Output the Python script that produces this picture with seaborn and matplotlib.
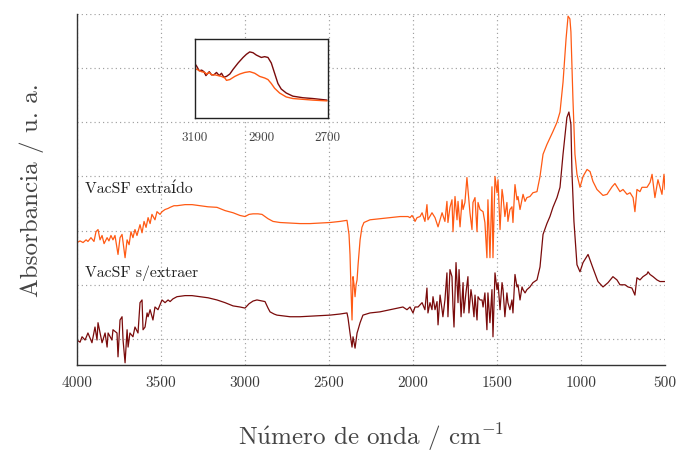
import numpy as np
import pandas as pd
import matplotlib
matplotlib.use("Agg")
import matplotlib.pyplot as plt
import seaborn as sns

# ---- FTIR spectra (wavenumber in cm^-1, absorbance in a.u., vertically offset) ----
wn_extraido = [
    4000, 3982, 3964, 3946, 3935, 3917, 3899, 3887, 3875, 3863, 3851, 3839, 3821, 3810,
    3798, 3786, 3774, 3756, 3744, 3732, 3714, 3702, 3690, 3679, 3667, 3655, 3643, 3625,
    3613, 3601, 3589, 3577, 3565, 3554, 3536, 3524, 3506, 3494, 3476, 3458, 3446, 3423,
    3405, 3357, 3315, 3268, 3220, 3167, 3119, 3071, 3030, 3000, 2976, 2952, 2923, 2899,
    2881, 2863, 2833, 2792, 2732, 2673, 2613, 2554, 2494, 2435, 2393, 2381, 2375, 2369,
    2363, 2357, 2351, 2345, 2339, 2333, 2327, 2315, 2304, 2292, 2256, 2197, 2137, 2077,
    2030, 2018, 2006, 1994, 1988, 1976, 1958, 1946, 1929, 1917, 1911, 1887, 1869, 1851,
    1827, 1810, 1798, 1792, 1780, 1768, 1762, 1750, 1738, 1732, 1720, 1708, 1702, 1691,
    1679, 1673, 1661, 1649, 1643, 1631, 1619, 1613, 1601, 1583, 1572, 1560, 1554, 1542,
    1530, 1524, 1512, 1500, 1494, 1482, 1470, 1464, 1453, 1441, 1435, 1423, 1411, 1405,
    1393, 1381, 1375, 1363, 1351, 1345, 1333, 1322, 1304, 1286, 1262, 1244, 1226, 1203,
    1167, 1143, 1125, 1107, 1089, 1077, 1066, 1060, 1048, 1036, 1024, 1006, 988, 964,
    946, 929, 905, 869, 845, 815, 798, 768, 750, 726, 708, 690, 679, 667, 649, 637, 607,
    589, 577, 560, 542, 518, 506, 500,
]
abs_extraido = [
    1.78, 1.81, 1.78, 1.83, 1.80, 1.87, 1.80, 1.98, 2.02, 1.83, 1.91, 1.76, 1.87, 1.81,
    1.91, 1.83, 1.91, 1.56, 1.87, 1.93, 1.50, 1.83, 1.74, 1.98, 1.87, 2.02, 1.91, 2.11,
    1.96, 2.17, 2.06, 2.24, 2.13, 2.30, 2.20, 2.35, 2.30, 2.35, 2.39, 2.41, 2.43, 2.46,
    2.46, 2.48, 2.48, 2.46, 2.44, 2.43, 2.37, 2.33, 2.28, 2.26, 2.30, 2.31, 2.31, 2.30,
    2.26, 2.22, 2.17, 2.15, 2.14, 2.13, 2.13, 2.14, 2.15, 2.17, 2.19, 1.93, 1.56, 0.91,
    0.35, 1.15, 1.00, 0.78, 1.00, 1.09, 1.37, 1.83, 2.06, 2.15, 2.20, 2.22, 2.24, 2.26,
    2.26, 2.24, 2.28, 2.22, 2.17, 2.24, 2.26, 2.33, 2.17, 2.48, 2.20, 2.33, 2.24, 2.07,
    2.33, 2.17, 2.54, 2.15, 2.43, 2.57, 1.98, 2.63, 2.20, 2.54, 2.07, 2.57, 2.39, 2.52,
    2.98, 2.76, 2.33, 2.02, 2.52, 2.61, 1.98, 2.52, 2.39, 2.35, 2.15, 1.50, 2.57, 1.50,
    2.81, 1.50, 3.00, 2.70, 2.94, 2.02, 2.76, 2.63, 2.26, 2.52, 2.17, 2.39, 2.44, 2.15,
    2.85, 2.57, 2.63, 2.39, 2.57, 2.67, 2.54, 2.61, 2.63, 2.70, 2.72, 3.00, 3.41, 3.59,
    3.83, 4.00, 4.19, 4.74, 5.54, 5.96, 5.91, 5.67, 4.43, 3.41, 3.04, 2.80, 3.00, 3.13,
    3.09, 2.91, 2.76, 2.65, 2.67, 2.81, 2.87, 2.72, 2.76, 2.67, 2.70, 2.61, 2.35, 2.76,
    2.72, 2.80, 2.80, 2.89, 3.04, 2.61, 2.94, 2.67, 3.04, 2.76,
]

wn_sin_extraer = [
    4000, 3982, 3970, 3952, 3935, 3911, 3893, 3881, 3875, 3851, 3833, 3821, 3815, 3792,
    3786, 3762, 3756, 3744, 3732, 3726, 3714, 3702, 3696, 3685, 3667, 3655, 3637, 3625,
    3613, 3607, 3595, 3583, 3577, 3565, 3548, 3536, 3518, 3494, 3476, 3458, 3446, 3429,
    3405, 3357, 3316, 3268, 3220, 3167, 3119, 3071, 3030, 3000, 2976, 2952, 2929, 2899,
    2881, 2863, 2851, 2827, 2810, 2732, 2673, 2613, 2554, 2494, 2435, 2393, 2387, 2375,
    2363, 2357, 2345, 2333, 2327, 2315, 2298, 2256, 2197, 2137, 2095, 2060, 2036, 2018,
    2000, 1988, 1970, 1946, 1929, 1917, 1911, 1899, 1887, 1881, 1869, 1857, 1851, 1839,
    1827, 1822, 1810, 1798, 1792, 1780, 1768, 1762, 1756, 1744, 1732, 1726, 1714, 1702,
    1697, 1685, 1673, 1667, 1655, 1649, 1637, 1631, 1619, 1613, 1601, 1589, 1583, 1572,
    1560, 1554, 1542, 1530, 1524, 1512, 1500, 1494, 1482, 1470, 1464, 1453, 1441, 1435,
    1423, 1411, 1405, 1393, 1381, 1375, 1363, 1351, 1345, 1333, 1322, 1304, 1286, 1262,
    1244, 1226, 1203, 1185, 1167, 1143, 1125, 1107, 1084, 1072, 1060, 1054, 1042, 1024,
    1006, 988, 958, 929, 899, 869, 839, 810, 786, 768, 738, 720, 697, 679, 667, 649, 631,
    607, 601, 589, 571, 548, 530, 500,
]
abs_sin_extraer = [
    -0.02, -0.06, 0.04, -0.02, 0.11, -0.07, 0.22, -0.02, 0.30, -0.07, 0.11, -0.15, 0.11, -0.02,
    0.17, 0.11, -0.33, 0.35, 0.41, -0.02, -0.44, 0.17, -0.15, 0.11, 0.04, 0.22, 0.11, 0.67,
    0.72, 0.17, 0.22, 0.48, 0.41, 0.54, 0.35, 0.59, 0.54, 0.72, 0.67, 0.72, 0.69, 0.74,
    0.78, 0.80, 0.80, 0.78, 0.76, 0.72, 0.67, 0.61, 0.59, 0.57, 0.65, 0.70, 0.72, 0.70,
    0.69, 0.57, 0.50, 0.46, 0.44, 0.41, 0.41, 0.42, 0.43, 0.44, 0.46, 0.48, 0.39, 0.11,
    -0.15, 0.04, -0.17, 0.11, 0.17, 0.30, 0.44, 0.48, 0.50, 0.54, 0.57, 0.59, 0.54, 0.59,
    0.48, 0.59, 0.59, 0.67, 0.54, 0.94, 0.48, 0.67, 0.54, 0.78, 0.54, 0.69, 0.26, 0.81,
    0.54, 0.41, 0.72, 1.22, 0.41, 1.28, 1.15, 0.59, 0.22, 1.41, 0.67, 1.28, 0.41, 1.04,
    0.48, 0.85, 1.15, 0.48, 0.91, 0.78, 0.41, 0.81, 0.35, 0.78, 0.72, 0.72, 0.59, 0.85,
    0.17, 0.85, 0.30, 0.91, 0.04, 1.22, 0.91, 1.04, 0.54, 1.04, 0.91, 0.41, 0.85, 0.67,
    0.54, 0.72, 0.48, 1.19, 0.96, 1.00, 0.72, 0.96, 0.91, 0.85, 0.91, 0.96, 1.04, 1.09,
    1.33, 1.93, 2.13, 2.26, 2.43, 2.61, 2.80, 3.41, 4.09, 4.19, 3.96, 3.09, 2.17, 1.37,
    1.24, 1.41, 1.56, 1.31, 1.06, 0.96, 1.04, 1.15, 1.09, 1.00, 1.00, 0.96, 0.94, 0.81, 1.13,
    1.09, 1.15, 1.20, 1.24, 1.19, 1.15, 1.09, 1.06, 1.06,
]

# ---- Detail of the C-H stretching region (normalised) ----
wn_zoom_sin = [
    3100, 3095, 3087, 3080, 3073, 3067, 3057, 3050, 3043, 3035, 3027, 3020, 3013, 3005,
    2995, 2985, 2970, 2955, 2945, 2935, 2925, 2915, 2900, 2890, 2880, 2870, 2860, 2850,
    2840, 2825, 2805, 2775, 2745, 2702,
]
abs_zoom_sin = [
    0.69, 0.66, 0.60, 0.61, 0.59, 0.54, 0.59, 0.55, 0.55, 0.58, 0.54, 0.57, 0.52, 0.53,
    0.56, 0.62, 0.70, 0.77, 0.81, 0.84, 0.83, 0.80, 0.77, 0.78, 0.77, 0.70, 0.57, 0.44,
    0.37, 0.32, 0.28, 0.26, 0.25, 0.23,
]
wn_zoom_ext = [
    3100, 3090, 3080, 3070, 3065, 3057, 3050, 3040, 3030, 3020, 3010, 3005, 2995, 2980,
    2965, 2950, 2935, 2920, 2905, 2890, 2880, 2870, 2860, 2845, 2825, 2805, 2775, 2745, 2702,
]
abs_zoom_ext = [
    0.63, 0.61, 0.59, 0.58, 0.56, 0.58, 0.55, 0.55, 0.54, 0.53, 0.51, 0.48, 0.49, 0.53,
    0.56, 0.58, 0.59, 0.57, 0.53, 0.51, 0.49, 0.44, 0.38, 0.32, 0.27, 0.25, 0.24, 0.23, 0.22,
]

x_ticks = [4000, 3500, 3000, 2500, 2000, 1500, 1000, 500]
inset_ticks = [3100, 2900, 2700]

label_ext = "VacSF extraído"
label_sin = "VacSF s/extraer"
col_ext = "#ff5a14"
col_sin = "#7a0b0b"

sns.set_theme(style="white")
plt.rcParams["font.family"] = ["cmr10", "DejaVu Serif"]
plt.rcParams["mathtext.fontset"] = "cm"
plt.rcParams["axes.formatter.use_mathtext"] = True
plt.rcParams["axes.unicode_minus"] = False

df_ext = pd.DataFrame({"wn": wn_extraido, "A": abs_extraido})
df_sin = pd.DataFrame({"wn": wn_sin_extraer, "A": abs_sin_extraer})

fig = plt.figure(figsize=(6.81, 4.53), dpi=100)
ax = fig.add_axes([0.1131, 0.1932, 0.8634, 0.7759])

sns.lineplot(data=df_ext, x="wn", y="A", ax=ax, color=col_ext, lw=0.9,
             sort=False, estimator=None)
sns.lineplot(data=df_sin, x="wn", y="A", ax=ax, color=col_sin, lw=0.9,
             sort=False, estimator=None)

ax.set_xlim(4000, 500)
ax.set_ylim(-0.49, 6.0)
ax.set_xticks(x_ticks)
ax.set_xticklabels([str(t) for t in x_ticks])
ax.set_yticks(range(0, 7))
ax.set_yticklabels([])
ax.grid(True, ls=(0, (1, 2.6)), color="#a0a0a0", lw=0.85)
for s in ["top", "right"]:
    ax.spines[s].set_visible(False)
for s in ["left", "bottom"]:
    ax.spines[s].set_color("#333333")
    ax.spines[s].set_linewidth(1.0)
ax.tick_params(axis="both", direction="in", length=7, width=0.9, color="#333333",
               labelsize=11, labelcolor="#3a3a3a", pad=8)
ax.set_xlabel(r"N$\mathrm{\acute{u}}$mero de onda / cm$^{-1}$", fontsize=18,
              color="#444444", labelpad=22)
ax.set_ylabel("Absorbancia / u. a.", fontsize=18, color="#444444", labelpad=16)

ax.text(3952, 2.70, label_ext, fontsize=11.3, color="#222222", ha="left", va="baseline")
ax.text(3952, 1.15, label_sin, fontsize=11.3, color="#222222", ha="left", va="baseline")

# inset with the C-H stretching bands
axin = fig.add_axes([0.2863, 0.7389, 0.1949, 0.1744])
sns.lineplot(x=wn_zoom_sin, y=abs_zoom_sin, ax=axin, color=col_sin, lw=1.0,
             sort=False, estimator=None)
sns.lineplot(x=wn_zoom_ext, y=abs_zoom_ext, ax=axin, color=col_ext, lw=1.0,
             sort=False, estimator=None)
axin.set_xlim(3100, 2700)
axin.set_ylim(0, 1)
axin.set_xticks(inset_ticks)
axin.set_xticklabels([str(t) for t in inset_ticks])
axin.set_yticks([])
axin.set_xlabel("")
axin.set_ylabel("")
axin.set_facecolor("white")
for s in axin.spines.values():
    s.set_color("#222222")
    s.set_linewidth(1.0)
axin.tick_params(axis="x", direction="in", length=3, width=0.9, color="#222222",
                 labelsize=9.5, labelcolor="#444444", pad=10)

fig.savefig("out.png", dpi=100)
